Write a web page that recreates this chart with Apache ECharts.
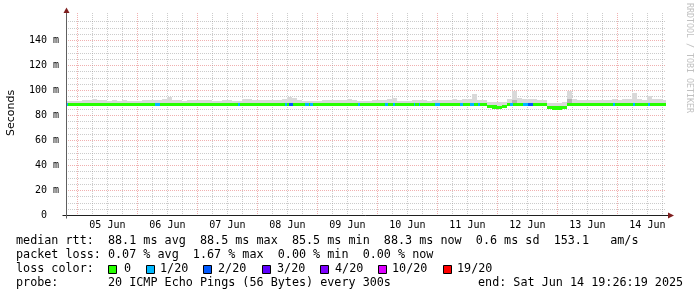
<!DOCTYPE html>
<html><head><meta charset="utf-8">
<script src="https://cdn.jsdelivr.net/npm/echarts@6/dist/echarts.min.js"></script>
<style>html,body{margin:0;padding:0;background:#fff}#c{width:697px;height:297px}</style>
</head><body><div id="c"></div>
<script>
// ---- time axis: hours relative to 05 Jun 00:00 ----
const axisStart = -4.5614;   // 04 Jun 19:26:19
const axisEnd = 235.4386;    // 14 Jun 19:26:19
const dayLabels = ['05 Jun','06 Jun','07 Jun','08 Jun','09 Jun','10 Jun','11 Jun','12 Jun','13 Jun','14 Jun'];
const dayLabelHours = [12,36,60,84,108,132,156,180,204,228];
const yMax = 160;
const yLabelValues = [0,20,40,60,80,100,120,140];

// ---- data: 2-hour steps starting 04 Jun 20:00 (t = -4) ----
const stepStart = -4;
const stepHours = 2;
const median = [
 88.4,88.4,88.3,88.4,88.4,88.5,88.4,88.3,88.4,88.4,
 88.3,88.4,88.4,88.5,88.4,88.4,88.3,88.4,88.5,88.4,
 88.4,88.3,88.4,88.4,88.5,88.4,88.4,88.3,88.4,88.4,
 88.4,88.5,88.4,88.4,88.3,88.4,88.4,88.4,88.5,88.4,
 88.4,88.3,88.4,88.4,88.5,88.4,88.4,88.4,88.3,88.4,
 88.4,88.4,88.5,88.4,88.4,88.3,88.4,88.4,88.4,88.5,
 88.4,88.4,88.3,88.4,88.4,88.4,88.5,88.4,88.4,88.3,
 88.4,88.4,88.4,88.5,88.4,88.4,88.3,88.4,88.4,88.4,
 88.5,88.4,88.3,88.2,86.8,86.3,86.2,86.6,88.3,88.4,
 88.4,88.5,88.4,88.4,88.3,88.3,86.0,85.6,85.5,85.8,
 88.2,88.3,88.4,88.4,88.4,88.5,88.4,88.4,88.3,88.4,
 88.4,88.4,88.5,88.4,88.4,88.3,88.4,88.4,88.4,88.3
];
const smokeTop = [
 91.2,91.2,91.4,91.8,91.8,92.6,91.8,91.8,91.6,91.8,
 91.6,92.4,91.2,91.1,91.6,92.4,92.4,91.8,92.4,93.1,
 94.4,92.0,91.8,91.6,91.8,92.4,92.2,91.8,91.8,91.6,
 91.6,92.4,92.2,91.6,91.6,92.6,93.1,91.8,92.0,92.2,
 92.0,92.0,92.4,92.6,94.4,93.6,91.8,91.6,91.6,91.6,
 91.6,92.2,92.2,92.0,92.0,91.8,92.6,92.0,91.6,91.6,
 91.6,91.8,92.4,92.2,93.1,93.6,91.6,91.4,91.6,92.2,
 92.2,91.8,91.6,92.0,92.2,92.0,92.4,92.6,92.4,92.9,
 93.1,96.8,92.2,92.0,90.6,90.2,90.4,90.8,92.9,99.0,
 94.0,92.6,93.0,93.0,92.0,92.0,90.0,89.6,89.6,90.4,
 99.0,92.6,92.4,92.4,92.2,92.0,92.0,92.0,92.0,92.8,
 92.0,93.0,93.0,97.8,92.6,92.4,95.2,92.5,92.5,91.8
];
const darkIdx = [89, 100];
const darkTop = [92.0, 93.2];

// ---- packet loss periods (hours) ----
const lossStart = [-4.56,31,64.2,83,84.6,91,93,112.2,123,126.2,134.6,136.6,143,153,157,160.2,173,178.2,180.2,214.2,222.2,228.2];
const lossEnd   = [-3.8,33,65,83.8,86.2,92.6,94.2,113,124.2,127,135.2,137.2,145,154.2,158.6,161,174.2,180.2,182.2,215,223,229];
const lossLevel = [1,1,1,1,2,1,1,1,1,1,1,1,1,1,1,1,1,1,2,1,1,1];
const lossNames = ['0','1/20','2/20','3/20','4/20','10/20','19/20'];
const lossColors = ['#26ff00','#00b8ff','#0059ff','#5e00ff','#7e00ff','#dd00ff','#ff0000'];

// ---- legend text ----
const medianStats = ['88.1 ms avg','88.5 ms max','85.5 ms min','88.3 ms now','0.6 ms sd','153.1   am/s'];
const lossStats = ['0.07 % avg','1.67 % max','0.00 % min','0.00 % now'];
const probeText = '20 ICMP Echo Pings (56 Bytes) every 300s';
const endText = 'end: Sat Jun 14 19:26:19 2025';

// ---- build series data ----
const BAND = 1.35;
function stepT(i){ return i === 0 ? axisStart : stepStart + stepHours*i; }
function stepE(i){ return Math.min(axisEnd, stepStart + stepHours*(i+1)); }
function medAt(t){ let i = Math.floor((t - stepStart)/stepHours); i = Math.max(0, Math.min(median.length-1, i)); return median[i]; }

const smokeData = median.map((m,i)=>[stepT(i), stepE(i), m-1, smokeTop[i]]);
const darkData = darkIdx.map((i,k)=>[stepT(i), stepE(i), median[i], darkTop[k]]);
const bandData = median.map((m,i)=>[stepT(i), stepE(i), m-BAND, m+BAND, 0]);
const lossData = lossStart.map((s,k)=>{ const m = medAt((s+lossEnd[k])/2); return [s, lossEnd[k], m-BAND, m+BAND, lossLevel[k]]; });

const gridData = [];
for (let v=5; v<yMax; v+=5) gridData.push([axisStart, v, 1, v%20===0?1:0]);
for (let t=0; t<axisEnd; t+=6) gridData.push([t, 0, 0, t%24===0?1:0]);

function rectRender(colorFn){
  return function(params, api){
    const a = api.coord([api.value(0), api.value(3)]);
    const b = api.coord([api.value(1), api.value(2)]);
    const x1 = Math.round(a[0]), x2 = Math.round(b[0]);
    const y1 = Math.round(a[1]), y2 = Math.round(b[1]);
    return {type:'rect', shape:{x:x1, y:y1, width:Math.max(1,x2-x1), height:Math.max(1,y2-y1)},
            style:{fill: colorFn(api)}};
  };
}
function gridRender(params, api){
  const cs = params.coordSys;
  const isH = api.value(2) === 1;
  const major = api.value(3) === 1;
  const stroke = major ? 'rgba(222,80,80,0.45)' : 'rgba(143,143,143,0.45)';
  let shape;
  if (isH) {
    const y = Math.round(api.coord([axisStart, api.value(1)])[1]) + 0.5;
    shape = {x1: cs.x, y1: y, x2: cs.x + cs.width, y2: y};
  } else {
    const x = Math.round(api.coord([api.value(0), 0])[0]) + 0.5;
    shape = {x1: x, y1: cs.y - 2, x2: x, y2: cs.y + cs.height};
  }
  return {type:'line', shape, style:{stroke, lineWidth:1, lineDash:[1,1]}};
}

const chart = echarts.init(document.getElementById('c'), null, {renderer:'canvas'});
const mono = '"DejaVu Sans Mono"';
chart.setOption({
  animation:false,
  backgroundColor:'#ffffff',
  grid:{left:66, top:15, width:600, height:200, containLabel:false},
  xAxis:{type:'value', min:axisStart, max:axisEnd,
    axisLine:{show:false}, axisTick:{show:false}, splitLine:{show:false},
    axisLabel:{customValues:dayLabelHours, formatter:(v)=>dayLabels[dayLabelHours.indexOf(Math.round(v))] || '',
      fontFamily:mono, fontSize:10, color:'#000', margin:5}},
  yAxis:{type:'value', min:0, max:yMax, interval:20,
    axisLine:{show:false}, axisTick:{show:false}, splitLine:{show:false},
    axisLabel:{customValues:yLabelValues, formatter:(v)=> v===0 ? '0  ' : (v>=yMax ? '' : v+' m'),
      fontFamily:mono, fontSize:10, color:'#000', margin:7}},
  series:[
    {type:'custom', z:1, data:gridData, encode:{x:0,y:1}, renderItem:gridRender, silent:true},
    {type:'custom', z:2, data:smokeData, encode:{x:[0,1],y:[2,3]}, renderItem:rectRender(()=>'#d9d9d9'), silent:true},
    {type:'custom', z:3, data:darkData, encode:{x:[0,1],y:[2,3]}, renderItem:rectRender(()=>'#b4b4b4'), silent:true},
    {type:'custom', z:4, data:bandData, encode:{x:[0,1],y:[2,3]}, renderItem:rectRender((api)=>lossColors[api.value(4)]), silent:true},
    {type:'custom', z:5, data:lossData, encode:{x:[0,1],y:[2,3]}, renderItem:rectRender((api)=>lossColors[api.value(4)]), silent:true}
  ]
});

const o = chart.convertToPixel({gridIndex:0}, [axisStart, 0]);
const e = chart.convertToPixel({gridIndex:0}, [axisEnd, yMax]);
const ox = Math.round(o[0]) + 0.5, oy = Math.round(o[1]) + 0.5;
const ex = Math.round(e[0]), ey = Math.round(e[1]);
const legendFont = '11.75px ' + mono;
const gfx = [];
// axes
gfx.push({type:'line', z:10, shape:{x1:ox-4, y1:oy, x2:ex+3, y2:oy}, style:{stroke:'#1f1f1f', lineWidth:1}});
gfx.push({type:'line', z:10, shape:{x1:ox, y1:oy+3, x2:ox, y2:ey-3}, style:{stroke:'#606060', lineWidth:1}});
gfx.push({type:'polygon', z:11, shape:{points:[[ex+2,oy-3],[ex+2,oy+3],[ex+8,oy]]}, style:{fill:'#7f1f1f'}});
gfx.push({type:'polygon', z:11, shape:{points:[[ox-3,ey-2],[ox+3,ey-2],[ox,ey-7.5]]}, style:{fill:'#7f1f1f'}});
// titles
gfx.push({type:'text', x:11, y:113, rotation:Math.PI/2, style:{text:'Seconds', font:'11px "DejaVu Sans"', fill:'#000', textAlign:'center', textVerticalAlign:'middle', verticalAlign:'middle'}});
gfx.push({type:'text', x:689, y:58, rotation:-Math.PI/2, style:{text:'RRDTOOL / TOBI OETIKER', font:'8.3px ' + mono, fill:'#c0c0c0', textAlign:'center', textVerticalAlign:'middle', verticalAlign:'middle'}});
// legend lines
function txt(s, x, y){ return {type:'text', x, y, style:{text:s, font:legendFont, fill:'#000', textAlign:'left', textVerticalAlign:'middle', verticalAlign:'middle'}}; }
gfx.push(txt('median rtt:  ' + medianStats.join('  '), 16, 241));
gfx.push(txt('packet loss: ' + lossStats.join('  '), 16, 255));
gfx.push(txt('loss color:', 16, 269));
const boxX = [108,146,203,262,320,378,443];
const boxLabelX = [124,160,218,277,335,392,457];
lossNames.forEach((n,k)=>{
  gfx.push({type:'rect', shape:{x:boxX[k]+0.5, y:265.5, width:8, height:8}, style:{fill:lossColors[k], stroke:'#000', lineWidth:1}});
  gfx.push(txt(n, boxLabelX[k], 269));
});
gfx.push(txt('probe:       ' + probeText, 16, 283));
gfx.push(txt(endText, 478, 283));
chart.setOption({graphic:gfx});
</script>
</body></html>
